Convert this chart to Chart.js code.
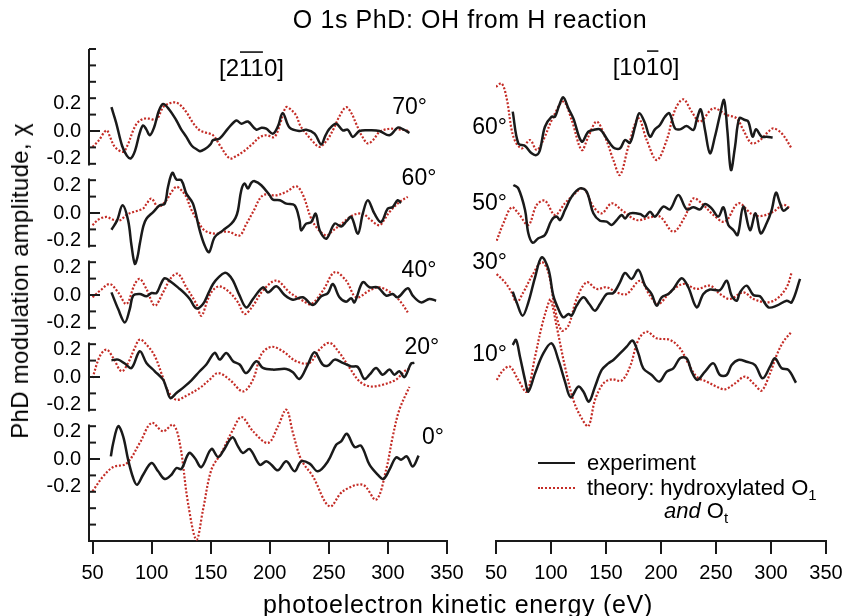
<!DOCTYPE html>
<html>
<head>
<meta charset="utf-8">
<script src="https://cdn.jsdelivr.net/npm/chart.js@4.4.1/dist/chart.umd.min.js"></script>
<style>
    body { margin: 0; background: #fff; }
    #wrap { position: relative; width: 845px; height: 616px; overflow: hidden; font-family: 'Liberation Sans', Arial, sans-serif; color: #000; }
    #c-izq { position: absolute; left: 0; top: 0; }
    #c-der { position: absolute; left: 455px; top: 0; }
    .txt { position: absolute; white-space: nowrap; line-height: 1; }
    .muestra { position: absolute; width: 37px; height: 0; }
    sub { font-size: 15px; position: relative; top: 5px; vertical-align: baseline; }
</style>
</head>
<body>
<div id="wrap">
    <canvas id="c-izq" width="470" height="616"></canvas>
    <canvas id="c-der" width="390" height="616"></canvas>

    <div class="txt" style="left:470px; top:7px; font-size:25px; letter-spacing:0.6px; transform:translateX(-50%);">O 1s PhD: OH from H reaction</div>
    <div class="txt" style="left:458px; top:592px; font-size:25px; letter-spacing:0.7px; transform:translateX(-50%);">photoelectron kinetic energy (eV)</div>
    <div class="txt" style="left:20px; top:281px; font-size:24px; letter-spacing:0.3px; transform:translate(-50%,-50%) rotate(-90deg);">PhD modulation amplitude, χ</div>

    <div class="muestra" style="left:538px; top:462px; border-top:2px solid #1a1a1a;"></div>
    <div class="txt" style="left:587px; top:452px; font-size:22px;">experiment</div>
    <div class="muestra" style="left:538px; top:487px; border-top:2px dotted rgb(196,44,38);"></div>
    <div class="txt" style="left:587px; top:477px; font-size:22px;">theory: hydroxylated O<sub>1</sub></div>
    <div class="txt" style="left:664px; top:500px; font-size:22px;"><i>and</i> O<sub>t</sub></div>
</div>

<script>
// ==================== DATOS ====================
const ENERGY_TICKS = [50, 100, 150, 200, 250, 300, 350];
const CHI_LABELS = ['-0.2', '0.0', '0.2'];

const LEFT_ANGLES = ['70°', '60°', '40°', '20°', '0°'];
const LEFT_OFFSET = [2.0, 1.5, 1.0, 0.5, 0.0];
const RIGHT_ANGLES = ['60°', '50°', '30°', '10°'];
const RIGHT_OFFSET = [2.0, 1.5, 1.0, 0.5];

// [energía (eV), chi]
const L70_EXP = [[66,0.145],[70,0.05],[75,-0.09],[79,-0.15],[82.4,-0.167],[86,-0.12],[90,-0.01],[92.8,0.034],[95.5,0.01],[98.5,-0.026],[102,0.02],[106,0.12],[109.7,0.165],[115,0.13],[121,0.064],[125,0.01],[129.4,-0.036],[134,-0.09],[139.3,-0.117],[141,-0.123],[145,-0.11],[147.7,-0.097],[150,-0.08],[152,-0.056],[157.6,-0.046],[164.6,0.014],[171.7,0.064],[176,0.044],[181.5,0.058],[188.6,0.008],[193,0.02],[197,0.014],[202.7,-0.016],[207,0.03],[211,0.109],[216.8,0.02],[225,0],[230.8,0.008],[237.9,-0.016],[243.5,-0.082],[247,-0.03],[250.6,0.014],[256.2,0.044],[261.8,0.004],[266,0.008],[270.3,-0.036],[275.9,0],[284.4,0.004],[292.8,0],[301.3,-0.026],[308.3,0.02],[313,0.01],[318.2,-0.012]];
const L70_TEO = [[50,-0.097],[55,-0.06],[61.8,0.004],[65,-0.04],[68.9,-0.097],[75.9,-0.127],[80,-0.08],[84.4,0.004],[88,0.05],[92.8,0.074],[98,0.075],[104.1,0.07],[109.7,0.145],[114,0.165],[119.6,0.175],[124,0.16],[129.4,0.115],[135,0.05],[140.7,0.004],[146,-0.01],[152,-0.026],[158,-0.09],[166,-0.167],[171,-0.155],[177.3,-0.127],[185.8,-0.076],[191,-0.04],[197,-0.026],[204,-0.036],[209,0.05],[213.8,0.145],[218,0.13],[222.3,0.095],[226,0.03],[230.8,-0.016],[236,-0.06],[242,-0.097],[248,-0.06],[253.4,0.004],[259,0.09],[264.6,0.145],[269,0.11],[273.1,0.044],[278,-0.03],[283,-0.076],[288,-0.05],[292.8,-0.006],[301.3,0.014],[308,0.01],[315.4,0.004],[318.2,-0.006]];

const L60_EXP = [[66,-0.102],[70.8,-0.045],[75.4,0.047],[80.1,-0.045],[83,-0.2],[85.8,-0.31],[88,-0.27],[90,-0.188],[93,-0.08],[95.6,-0.035],[101.3,0.006],[106.9,0.047],[111.1,0.057],[113.9,0.16],[117.6,0.245],[121,0.204],[125.2,0.2],[129.4,0.118],[135,0.057],[140.7,-0.106],[144.9,-0.198],[148.6,-0.239],[153.4,-0.147],[160.4,-0.106],[167.5,-0.065],[171,-0.03],[173.1,0.016],[175.9,0.139],[178.7,0.18],[181.5,0.149],[184.5,0.185],[187.2,0.194],[192.8,0.169],[199.9,0.108],[202.7,0.082],[208.5,0.078],[214,0.057],[221,0.047],[225.2,-0.045],[226.6,-0.106],[230.8,-0.065],[235.1,-0.055],[238.8,-0.004],[242.3,-0.106],[247.9,-0.157],[254.9,-0.065],[260.4,-0.082],[265,-0.05],[269,-0.024],[274.6,-0.127],[278.7,-0.004],[283,0.078],[288.6,-0.004],[294.2,-0.055],[299.9,0.027],[304.1,0.037],[308.3,0.078],[311.1,0.061]];
const L60_TEO = [[50,-0.075],[55,-0.04],[61.8,-0.024],[67,-0.04],[73,-0.045],[79,-0.01],[84.4,0.006],[92.8,0.027],[96,0.06],[99.9,0.088],[105.5,0.037],[112.5,0.078],[117,0.13],[121,0.16],[125,0.14],[129.4,0.098],[133,0.03],[137.9,-0.035],[144.9,-0.106],[154.8,-0.127],[160,-0.115],[166,-0.116],[174.5,-0.137],[180,-0.07],[185.8,0.006],[194.2,0.108],[205.5,0.108],[214,0.129],[222.5,0.163],[228.2,0.108],[235.1,-0.035],[241,-0.1],[247.9,-0.137],[253,-0.11],[259.2,-0.075],[270.4,-0.014],[278.7,-0.004],[285,-0.04],[292.8,-0.075],[297,-0.04],[301.3,0.006],[309.7,0.067],[316.8,0.098]];

const L40_EXP = [[66,0.016],[71.7,-0.086],[77.3,-0.167],[81.5,-0.086],[84.4,-0.004],[90,0.006],[95.6,-0.008],[99.9,0.012],[104.1,0.012],[108,0.07],[111.1,0.102],[116.8,0.078],[123.8,0.037],[128,0.01],[132.3,-0.024],[137.9,-0.082],[143.5,-0.055],[148,0.01],[152,0.067],[157,0.11],[161.8,0.135],[165,0.125],[168.9,0.088],[174.5,-0.004],[180.1,-0.076],[185.8,-0.024],[194.2,0.047],[198.5,0.016],[205.5,0.053],[212.5,0],[219.6,-0.029],[228,-0.014],[236.5,-0.061],[243.5,-0.008],[249.2,0.012],[253.4,0.067],[259,-0.014],[264.6,-0.041],[268.9,-0.02],[271.7,-0.045],[278.7,0.078],[284.4,0.047],[291.4,0.047],[298.5,-0.004],[304.1,0.006],[308.3,-0.014],[316.8,0.041],[321,-0.004],[328,-0.045],[335.1,-0.024],[340.8,-0.035]];
const L40_TEO = [[50,-0.014],[57,0.03],[64.6,0.067],[71.7,0.016],[78.7,-0.055],[85.8,0.067],[90,0.098],[95.6,0.037],[102.7,-0.065],[109.7,0.016],[116.8,0.108],[122.4,0.129],[129.4,0.047],[137.9,-0.055],[142.1,-0.127],[147.7,-0.024],[152,0.03],[157.6,0.053],[166,0.016],[173.1,-0.045],[178.7,-0.116],[185.8,-0.065],[194.2,0.027],[205.5,0.088],[216.8,0.016],[228,-0.035],[235.1,-0.055],[245,0.027],[254.9,0.139],[264.6,0.088],[273.1,-0.014],[284.4,0.027],[292.8,0.047],[304.1,0.006],[311.1,-0.045],[316.8,-0.106]];

const L20_EXP = [[66,0.102],[71.7,0.106],[77.3,0.082],[83,0.055],[90,0.157],[95.6,0.086],[102.7,0.035],[109.7,-0.016],[112.5,-0.067],[115.9,-0.129],[121,-0.098],[128,-0.057],[133.7,-0.02],[140.7,0.035],[146.3,0.076],[153.4,0.147],[157.6,0.106],[163.2,0.147],[168.9,0.096],[174.5,0.076],[180.1,0.024],[188.6,0.096],[194.2,0.055],[202.7,0.045],[214,0.049],[219.6,0.029],[225.2,-0.012],[232.2,0.076],[237.9,0.151],[244.8,0.076],[249.2,0.069],[254.9,0.106],[261.8,0.086],[268.9,0.065],[274.5,0.061],[280.1,-0.012],[284.4,0.014],[290,0.055],[295.6,0.014],[301.3,0.045],[305.5,0.014],[309.7,0.035],[314,0],[319.6,0.082],[322.4,0.086]];
const L20_TEO = [[50,-0.006],[56.2,0.127],[61.8,0.167],[67.5,0.116],[74.5,0.035],[80.1,0.086],[85.8,0.178],[90,0.229],[95.6,0.198],[102.7,0.127],[109.7,-0.006],[114,-0.088],[121,-0.139],[129.4,-0.114],[140.7,-0.067],[149.1,-0.016],[156.2,0.024],[166,-0.016],[177.3,-0.088],[185.8,-0.016],[192.8,0.137],[201.3,0.184],[211.1,0.157],[222.3,0.096],[233.6,0.086],[242,0.167],[250.6,0.208],[259,0.147],[267.6,0.055],[276,-0.027],[284.4,-0.057],[295.6,-0.047],[306.9,-0.016],[314,0.035],[318.2,0.05]];

const L0_EXP = [[65.5,0.016],[67.5,0.098],[71.7,0.2],[75.9,0.138],[80.1,-0.004],[84.4,-0.116],[87.7,-0.157],[92.8,-0.096],[99.9,-0.024],[105.5,-0.075],[111.1,-0.122],[116.8,-0.096],[121,-0.055],[125.2,-0.061],[131.7,0.037],[136.5,0.006],[142.1,-0.049],[150.6,0.061],[156.2,0.012],[160.4,0.047],[168.3,0.132],[173.1,0.077],[177.3,0.037],[183,0.061],[191.5,-0.035],[197.1,-0.014],[201.3,-0.035],[206.9,-0.069],[214,-0.014],[221,-0.075],[226.6,-0.014],[233.7,-0.028],[240.7,-0.075],[249.2,-0.014],[256.2,0.087],[260.4,0.108],[265.2,0.154],[271.7,0.073],[277.3,0.081],[284.4,-0.035],[291.4,-0.096],[296.2,-0.122],[301.3,-0.065],[306.9,0.01],[311.1,-0.004],[315.9,0.016],[321,-0.045],[326,0.02]];
const L0_TEO = [[50,-0.197],[59,-0.106],[67.5,-0.049],[78.7,-0.028],[90,0.098],[99.9,0.22],[109.7,0.169],[118.2,0.209],[123.8,0.098],[130.8,-0.268],[137.9,-0.492],[143.5,-0.309],[150.6,-0.065],[159,0.037],[168.9,0.179],[176,0.256],[185.8,0.169],[198.5,0.098],[207,0.2],[214,0.301],[219.6,0.159],[226.6,-0.004],[236.5,-0.106],[250.6,-0.289],[261.8,-0.197],[278.7,-0.157],[290,-0.248],[298.5,-0.065],[304.1,0.138],[309.7,0.301],[318.2,0.44]];

const R60_EXP = [[65.2,0.118],[70.3,-0.075],[76.4,-0.091],[82.4,-0.136],[87,-0.146],[90,-0.116],[94.5,0.026],[100.6,0.087],[103.6,0.087],[107.6,0.159],[111.2,0.205],[115.8,0.138],[120.3,0.077],[127.9,-0.065],[133.9,-0.004],[138.5,0.006],[144.5,0.01],[150.6,-0.045],[156.7,-0.1],[162.7,-0.106],[167.3,-0.055],[171.8,-0.071],[176.4,0.026],[180.3,0.108],[185.5,0.047],[190,-0.035],[194.5,0.01],[199,0.037],[203.6,0.087],[207.6,0.108],[212.7,0.016],[217.3,0.01],[223.3,0.03],[229.4,0.006],[232.4,0.067],[236.1,0.132],[240,0.006],[244.5,-0.136],[249,-0.035],[253.6,0.098],[257.3,0.189],[260.3,0.006],[263.6,-0.238],[267.3,-0.096],[271.2,0.077],[276.4,0.067],[279.4,0.057],[283.3,-0.035],[286.4,0.01],[291.5,-0.035],[296,-0.035],[301.5,-0.039]];
const R60_TEO = [[50,0.27],[55.2,0.29],[59.7,0.199],[65.8,-0.035],[73.3,-0.106],[80.9,-0.055],[87,-0.116],[93,-0.055],[102.1,0.087],[111.2,0.179],[118.8,0.067],[127.9,-0.116],[133.9,-0.035],[141.5,0.057],[149.1,-0.035],[156.7,-0.177],[162.7,-0.268],[170.3,-0.096],[179.4,0.077],[187,-0.055],[196.1,-0.177],[205.2,-0.055],[212.7,0.128],[220.3,0.193],[227.9,0.118],[235.5,0.057],[247.6,0.138],[259.7,0.098],[268.8,0.077],[274.8,0.006],[282.4,-0.075],[290,-0.055],[297.6,-0.004],[302.1,0.016],[309.7,-0.014],[318.8,-0.106]];

const R50_EXP = [[65.8,0.171],[70.3,0.15],[76.4,0.018],[79.4,-0.124],[83.3,-0.181],[88.5,-0.154],[94.5,-0.134],[100.6,-0.043],[105.2,-0.022],[108.2,-0.043],[112.7,0.018],[118.8,0.1],[126.4,0.15],[132.4,0.13],[138.5,-0.002],[144.5,-0.047],[150.6,-0.053],[155.2,-0.073],[159.7,-0.043],[164.2,-0.012],[167.3,-0.033],[171.8,-0.002],[180.9,-0.006],[185.5,-0.022],[190,0.008],[194.5,-0.022],[202.1,0.039],[208.2,0.022],[215.8,0.11],[223.3,0.022],[229.4,0.035],[235.5,0.022],[240,0.055],[246,0.028],[252.1,-0.022],[256.7,0.035],[261.2,-0.073],[265.8,-0.104],[269.7,-0.134],[274.8,0.039],[280.9,-0.104],[286,-0.002],[290.6,-0.124],[296,-0.063],[300.6,0.018],[304.5,0.124],[308.2,0.059],[311.2,0.014],[315.8,0.035]];
const R50_TEO = [[50.6,-0.169],[56.7,-0.063],[64.2,0.035],[70.3,-0.002],[79.4,-0.073],[87,0.049],[94.5,0.075],[103.6,-0.012],[112.7,0.059],[120.3,0.11],[129.4,0.15],[138.5,0.039],[146.1,-0.002],[155.2,0.059],[164.2,0.018],[177.9,-0.043],[190,-0.026],[199.1,-0.022],[211.2,-0.114],[221.8,-0.022],[229.4,0.089],[238.5,0.049],[247.6,-0.012],[258.2,-0.053],[270.3,0.059],[282.4,-0.006],[291.5,-0.018],[302.1,0.008],[311.2,0.049],[317.3,0.028]];

const R30_EXP = [[65.2,0.02],[68.8,-0.045],[74.2,-0.126],[79.4,-0.045],[85.5,0.108],[91.5,0.23],[97.6,0.159],[102.1,-0.004],[106.7,-0.085],[111.2,-0.136],[115.8,-0.116],[118.8,-0.126],[123.3,-0.065],[129.4,-0.014],[134.8,-0.055],[139.9,-0.096],[144.5,-0.055],[150.6,0.006],[156.7,0.012],[162.7,0.077],[167.3,0.134],[173.3,0.098],[179.4,0.154],[185.5,0.057],[191.5,0.006],[196.1,-0.065],[200.6,-0.014],[206.7,0.006],[211.2,0.037],[218.8,0.102],[224.8,0.047],[232.4,-0.075],[238.5,0.006],[244.5,0.033],[253.6,0.03],[259.7,0.087],[264.2,-0.004],[268.8,-0.035],[271.8,0.016],[277.9,0.057],[283.9,0],[290,-0.008],[297.6,-0.075],[305.2,-0.065],[314.2,-0.035],[318.8,-0.045],[326.4,0.098]];
const R30_TEO = [[50.6,0.128],[58.2,0.077],[64.2,0.016],[68.8,-0.045],[74.8,0.016],[83,0.12],[91.5,0.2],[97.6,0.138],[103.6,-0.085],[109.7,-0.217],[115.8,-0.187],[123.3,-0.024],[132.4,0.077],[141.5,0.037],[150.6,0.047],[159.7,0.016],[168.8,0.006],[181,0.087],[190,-0.004],[197.6,-0.055],[208.2,0.016],[220.3,0.067],[232.4,0.037],[244.5,0.057],[253.6,0.006],[262.7,-0.024],[274.8,0.016],[283.9,-0.024],[296,-0.045],[305.2,-0.024],[314.2,0.047],[318.8,0.138]];

const R10_EXP = [[65.2,0.195],[68.2,0.226],[71.8,0.124],[76.4,-0.018],[79.4,-0.089],[85.5,0.022],[93,0.144],[100.6,0.205],[106.7,0.104],[112.7,-0.028],[117.9,-0.124],[124.8,-0.059],[129.4,-0.089],[134.5,-0.15],[140,-0.059],[146.1,0.043],[152.1,0.083],[156.7,0.104],[162.7,0.144],[168.8,0.185],[174.2,0.222],[179.4,0.144],[183.9,0.053],[191.5,0.012],[198.5,-0.028],[205.2,0.033],[211.2,0.053],[217.3,0.114],[223.3,0.114],[227.9,0.033],[233,-0.018],[240,0.033],[247.6,0.083],[253.6,0.012],[259.7,0.012],[264.2,0.073],[270.3,0.104],[277.9,0.093],[285.5,0.073],[292.4,-0.008],[299.1,0.063],[303.6,0.114],[309.7,0.053],[315.8,0.043],[322.7,-0.035]];
const R10_TEO = [[50.6,-0.018],[56.7,0.043],[62.7,0.063],[70.3,-0.018],[77.9,-0.089],[85.5,0.124],[91.5,0.307],[97.6,0.449],[99.7,0.474],[105.2,0.307],[112.7,0.063],[120.3,-0.14],[127.9,-0.252],[134,-0.3],[140,-0.14],[147.6,-0.039],[155.2,-0.014],[164.2,-0.022],[171.8,0.063],[179.4,0.226],[187,0.276],[196.1,0.236],[208.2,0.226],[217.3,0.175],[224.8,0.083],[232.4,0.002],[241.5,-0.028],[250.6,-0.059],[258.2,-0.075],[267.3,-0.039],[276.4,0.002],[285.5,-0.049],[291.5,-0.083],[299.1,0.022],[305.2,0.134],[311.2,0.215],[317.9,0.27]];

// ==================== ESTILO ====================
const FUENTE = "'Liberation Sans', Arial, sans-serif";
const NEGRO = '#1a1a1a';
const ROJO = 'rgb(196, 44, 38)';

function serie(puntos, offset, teoria) {
    return {
        data: puntos.map(([e, chi]) => ({ x: e, y: chi + offset })),
        borderColor: teoria ? ROJO : NEGRO,
        borderWidth: teoria ? 2.2 : 2.5,
        borderDash: teoria ? [2, 1.8] : [],
        pointRadius: 0,
        tension: 0.35,
        fill: false,
        order: teoria ? 1 : 0,
    };
}

function armarDatasets(exp, teo, offsets) {
    const ds = [];
    exp.forEach((p, i) => ds.push(serie(p, offsets[i], false)));
    teo.forEach((p, i) => ds.push(serie(p, offsets[i], true)));
    return ds;
}

// eje y partido: un tramo por traza, con marcas hacia adentro
const ejeRoto = {
    id: 'ejeRoto',
    afterDraw(chart) {
        const { ctx, chartArea, scales: { y } } = chart;
        const offs = LEFT_OFFSET;
        const top = Math.max(...offs), bot = Math.min(...offs);
        const x0 = chartArea.left;
        ctx.save();
        ctx.strokeStyle = NEGRO;
        ctx.lineWidth = 2;
        offs.forEach(z => {
            const lo = z === bot ? y.min : z - 0.21;
            const hi = z === top ? y.max : z + 0.21;
            ctx.beginPath();
            ctx.moveTo(x0, y.getPixelForValue(lo));
            ctx.lineTo(x0, y.getPixelForValue(hi));
            ctx.stroke();
            for (let k = Math.ceil((lo - z) * 10 - 1e-6); k <= Math.floor((hi - z) * 10 + 1e-6); k++) {
                const py = y.getPixelForValue(z + k / 10);
                ctx.beginPath();
                ctx.moveTo(x0, py);
                ctx.lineTo(x0 + (k === 0 ? 11 : 7), py);
                ctx.stroke();
            }
        });
        ctx.restore();
    },
};

function textosPanel(cfg) {
    return {
        id: 'textosPanel',
        afterDraw(chart) {
            const { ctx, scales: { x, y } } = chart;
            ctx.save();
            ctx.fillStyle = '#000';
            ctx.font = `23px ${FUENTE}`;
            ctx.textAlign = 'right';
            ctx.textBaseline = 'middle';
            cfg.angulos.forEach((t, i) => {
                ctx.fillText(t, x.getPixelForValue(cfg.labelE[i]), y.getPixelForValue(cfg.offsets[i] + cfg.labelRel[i]));
            });

            // encabezado con barras sobre los índices negativos
            ctx.font = `24px ${FUENTE}`;
            ctx.textAlign = 'left';
            ctx.textBaseline = 'alphabetic';
            const w = ctx.measureText(cfg.titulo).width;
            const x0 = x.getPixelForValue(cfg.tituloE) - w / 2;
            const yb = y.getPixelForValue(cfg.tituloY);
            ctx.fillText(cfg.titulo, x0, yb);
            ctx.strokeStyle = '#000';
            ctx.lineWidth = 1.5;
            cfg.barras.forEach(([a, b]) => {
                const xa = x0 + ctx.measureText(cfg.titulo.slice(0, a)).width + 1;
                const xb = x0 + ctx.measureText(cfg.titulo.slice(0, b)).width - 1;
                ctx.beginPath();
                ctx.moveTo(xa, yb - 24);
                ctx.lineTo(xb, yb - 24);
                ctx.stroke();
            });
            ctx.restore();
        },
    };
}

function ejeX(min, max) {
    return {
        type: 'linear',
        min, max,
        afterBuildTicks: s => { s.ticks = ENERGY_TICKS.map(v => ({ value: v })); },
        afterFit: s => { s.height = 75; s.paddingLeft = 0; s.paddingRight = 0; },
        grid: { drawOnChartArea: false, drawTicks: true, tickLength: 13, color: NEGRO, lineWidth: 2 },
        border: { display: true, color: NEGRO, width: 2 },
        ticks: { color: '#000', font: { family: FUENTE, size: 20 }, padding: 7, maxRotation: 0, autoSkip: false },
    };
}

const comunes = {
    responsive: false,
    animation: false,
    devicePixelRatio: 1,
    plugins: { legend: { display: false }, tooltip: { enabled: false } },
};

new Chart(document.getElementById('c-izq'), {
    type: 'line',
    data: { datasets: armarDatasets([L70_EXP, L60_EXP, L40_EXP, L20_EXP, L0_EXP], [L70_TEO, L60_TEO, L40_TEO, L20_TEO, L0_TEO], LEFT_OFFSET) },
    options: {
        ...comunes,
        layout: { padding: { left: 0, right: 23, top: 49, bottom: 0 } },
        scales: {
            x: ejeX(47, 350),
            y: {
                type: 'linear',
                min: -0.5, max: 2.5,
                afterBuildTicks: s => { s.ticks = LEFT_OFFSET.flatMap(z => [z - 0.165, z, z + 0.165]).map(v => ({ value: v })); },
                afterFit: s => { s.width = 89; s.paddingTop = 0; s.paddingBottom = 0; },
                grid: { display: false, drawTicks: false },
                border: { display: false },
                ticks: { color: '#000', font: { family: FUENTE, size: 20 }, padding: 8, autoSkip: false, callback: (v, i) => CHI_LABELS[i % 3] },
            },
        },
    },
    plugins: [ejeRoto, textosPanel({
        angulos: LEFT_ANGLES, offsets: LEFT_OFFSET,
        labelE: [333, 341, 341, 343.5, 347.5], labelRel: [0.14, 0.21, 0.15, 0.18, 0.13],
        titulo: '[2110]', tituloE: 184.5, tituloY: 2.335, barras: [[2, 4]],
    })],
});

new Chart(document.getElementById('c-der'), {
    type: 'line',
    data: { datasets: armarDatasets([R60_EXP, R50_EXP, R30_EXP, R10_EXP], [R60_TEO, R50_TEO, R30_TEO, R10_TEO], RIGHT_OFFSET) },
    options: {
        ...comunes,
        layout: { padding: { left: 41, right: 19, top: 49, bottom: 0 } },
        scales: {
            x: ejeX(50, 350),
            y: { type: 'linear', min: -0.5, max: 2.5, display: false },
        },
    },
    plugins: [textosPanel({
        angulos: RIGHT_ANGLES, offsets: RIGHT_OFFSET,
        labelE: [60, 60, 60, 60], labelRel: [0.02, 0.055, 0.195, 0.134],
        titulo: '[1010]', tituloE: 186.4, tituloY: 2.341, barras: [[3, 4]],
    })],
});
</script>
</body>
</html>
